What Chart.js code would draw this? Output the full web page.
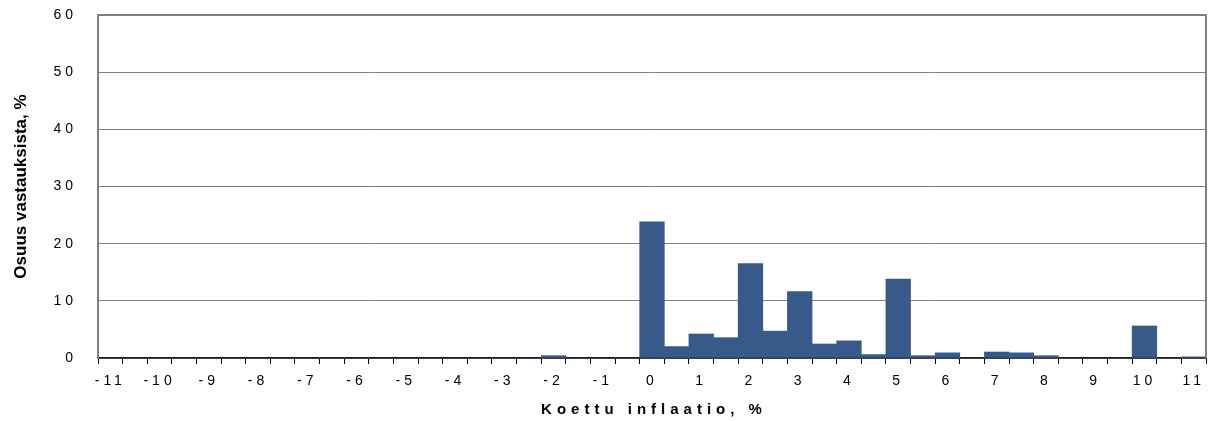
<!DOCTYPE html>
<html>
<head>
<meta charset="utf-8">
<script src="https://cdn.jsdelivr.net/npm/chart.js@4/dist/chart.umd.min.js"></script>
<style>
html,body{margin:0;padding:0;background:#fff;}
canvas{display:block;}
</style>
</head>
<body>
<canvas id="c" width="1208" height="421"></canvas>
<script>
// Categories: expected inflation, half-percent steps
const categories = [-11,-10.5,-10,-9.5,-9,-8.5,-8,-7.5,-7,-6.5,-6,-5.5,-5,-4.5,-4,-3.5,-3,-2.5,-2,-1.5,-1,-0.5,
  0,0.5,1,1.5,2,2.5,3,3.5,4,4.5,5,5.5,6,6.5,7,7.5,8,8.5,9,9.5,10,10.5,11];
// Share of responses, %
const shares = [0,0,0,0,0,0,0,0,0,0,0,0,0,0,0,0,0,0,0.4,0,0,0,
  23.8,2.0,4.2,3.55,16.5,4.7,11.6,2.45,3.0,0.6,13.8,0.4,0.9,0,1.05,0.9,0.4,0,0,0,5.6,0,0.2];
const yTicks = [0,10,20,30,40,50,60];
const xTitle = 'Koettu inflaatio, %';
const yTitle = 'Osuus vastauksista, %';

const frame = {
  id: 'frame',
  beforeDraw(chart) {
    chart.ctx.letterSpacing = '4px';
  },
  afterDraw(chart) {
    const {ctx, chartArea: a} = chart;
    ctx.save();
    ctx.strokeStyle = '#808080';
    ctx.lineWidth = 2;
    ctx.beginPath();
    ctx.moveTo(a.left, a.top);
    ctx.lineTo(a.right, a.top);
    ctx.lineTo(a.right, a.bottom);
    ctx.stroke();
    // titles
    ctx.fillStyle = '#000';
    ctx.letterSpacing = '5px';
    ctx.font = 'bold 15px "Liberation Sans", Arial, sans-serif';
    ctx.textAlign = 'center';
    ctx.textBaseline = 'middle';
    ctx.fillText(xTitle, (a.left + a.right) / 2 + 2, 410);
    ctx.letterSpacing = '0px';
    ctx.font = 'bold 17px "Liberation Sans", Arial, sans-serif';
    ctx.translate(21, (a.top + a.bottom) / 2);
    ctx.rotate(-Math.PI / 2);
    ctx.fillText(yTitle, 0, 0);
    ctx.restore();
    ctx.letterSpacing = '0px';
  }
};

new Chart(document.getElementById('c'), {
  type: 'bar',
  data: {
    labels: categories,
    datasets: [{
      data: shares,
      backgroundColor: '#385a8b',
      borderWidth: 0,
      categoryPercentage: 1.0,
      barPercentage: 1.0
    }]
  },
  options: {
    responsive: false,
    animation: false,
    layout: {autoPadding: false, padding: {top: 15, right: 2, left: 0, bottom: 0}},
    plugins: {legend: {display: false}, tooltip: {enabled: false}},
    scales: {
      x: {
        offset: true,
        grid: {offset: true, drawOnChartArea: false, tickLength: 6, color: '#000', lineWidth: 1},
        border: {color: '#000', width: 1.5},
        ticks: {
          autoSkip: false,
          maxRotation: 0,
          padding: 9,
          color: '#000',
          font: {size: 14, family: 'Liberation Sans, Arial, sans-serif'},
          callback: function(v, i) {
            const c = categories[i];
            return Number.isInteger(c) ? String(c) : '';
          }
        },
        afterFit(s) { s.height = 63; s.paddingLeft = 0; s.paddingRight = 0; }
      },
      y: {
        min: 0, max: 60,
        afterBuildTicks(s) { s.ticks = yTicks.map(v => ({value: v})); },
        grid: {color: '#808080', lineWidth: 1, drawTicks: false},
        border: {color: '#808080', width: 2},
        ticks: {
          padding: 21,
          color: '#000',
          font: {size: 14, family: 'Liberation Sans, Arial, sans-serif'}
        },
        afterFit(s) { s.width = 98; s.paddingTop = 0; s.paddingBottom = 0; }
      }
    }
  },
  plugins: [frame]
});
</script>
</body>
</html>
